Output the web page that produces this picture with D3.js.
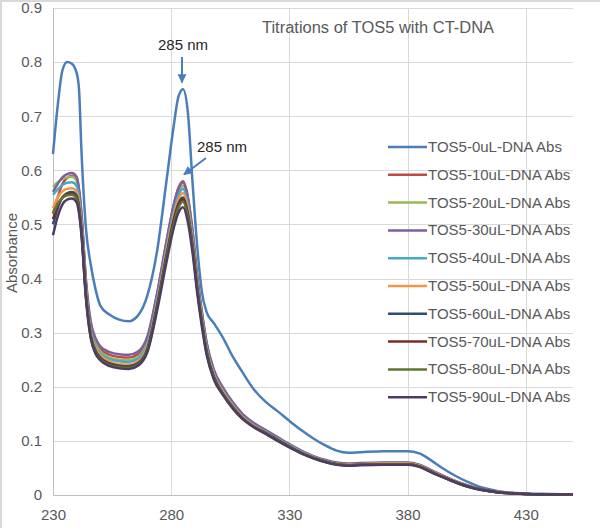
<!DOCTYPE html>
<html>
<head>
<meta charset="utf-8">
<script src="https://cdn.jsdelivr.net/npm/d3@7"></script>
<style>
  body { margin: 0; background: #fff; }
  text { font-family: "Liberation Sans", Arial, sans-serif; }
</style>
</head>
<body>
<div id="chart"></div>
<script>
// wavelengths (nm) shared by every spectrum
var wavelengths = [230, 232, 234, 236, 238, 240, 241, 242, 244, 246, 248, 250, 254, 258, 262, 266, 270, 274, 278, 281, 283, 285, 287, 289, 291, 293, 295, 298, 302, 306, 310, 315, 320, 325, 330, 335, 340, 345, 350, 355, 360, 370, 380, 385, 390, 395, 400, 405, 410, 415, 420, 430, 440, 450];

var seriesNames = ["TOS5-0uL-DNA Abs", "TOS5-10uL-DNA Abs", "TOS5-20uL-DNA Abs", "TOS5-30uL-DNA Abs", "TOS5-40uL-DNA Abs",
                   "TOS5-50uL-DNA Abs", "TOS5-60uL-DNA Abs", "TOS5-70uL-DNA Abs", "TOS5-80uL-DNA Abs", "TOS5-90uL-DNA Abs"];
var seriesColors = ["#4a7ebb", "#be4b48", "#98b954", "#7d5fa0", "#46aac5", "#f69544", "#2c4d75", "#772c2a", "#5f7530", "#4d3b62"];

var abs0 = [0.63, 0.72, 0.785, 0.80, 0.797, 0.78, 0.75, 0.64, 0.49, 0.425, 0.38, 0.35, 0.333, 0.324, 0.321, 0.332, 0.37, 0.45, 0.58, 0.68, 0.735, 0.75, 0.71, 0.58, 0.46, 0.375, 0.338, 0.318, 0.29, 0.256, 0.228, 0.195, 0.172, 0.155, 0.137, 0.12, 0.105, 0.092, 0.082, 0.078, 0.079, 0.081, 0.081, 0.077, 0.064, 0.049, 0.036, 0.025, 0.016, 0.01, 0.006, 0.003, 0.002, 0.001];
var abs10 = [0.52, 0.55, 0.575, 0.586, 0.59, 0.583, 0.562, 0.52, 0.39, 0.315, 0.285, 0.27, 0.259, 0.255, 0.254, 0.26, 0.29, 0.37, 0.468, 0.535, 0.567, 0.58, 0.552, 0.49, 0.405, 0.337, 0.28, 0.23, 0.196, 0.17, 0.149, 0.131, 0.119, 0.106, 0.093, 0.081, 0.072, 0.064, 0.059, 0.057, 0.058, 0.059, 0.059, 0.055, 0.045, 0.035, 0.026, 0.018, 0.011, 0.007, 0.005, 0.002, 0.001, 0.001];
var abs20 = [0.57, 0.578, 0.584, 0.587, 0.588, 0.58, 0.558, 0.515, 0.385, 0.31, 0.28, 0.265, 0.254, 0.25, 0.249, 0.255, 0.284, 0.364, 0.462, 0.528, 0.559, 0.572, 0.545, 0.483, 0.4, 0.333, 0.277, 0.227, 0.194, 0.168, 0.147, 0.13, 0.118, 0.105, 0.092, 0.08, 0.071, 0.064, 0.059, 0.057, 0.058, 0.059, 0.059, 0.055, 0.045, 0.035, 0.026, 0.018, 0.011, 0.007, 0.005, 0.002, 0.001, 0.001];
var abs30 = [0.56, 0.575, 0.587, 0.593, 0.595, 0.588, 0.566, 0.524, 0.395, 0.32, 0.29, 0.275, 0.264, 0.26, 0.259, 0.265, 0.294, 0.372, 0.468, 0.534, 0.565, 0.578, 0.55, 0.488, 0.405, 0.338, 0.282, 0.232, 0.198, 0.172, 0.151, 0.133, 0.12, 0.107, 0.094, 0.082, 0.072, 0.065, 0.06, 0.058, 0.059, 0.06, 0.06, 0.056, 0.046, 0.036, 0.026, 0.018, 0.012, 0.008, 0.005, 0.002, 0.001, 0.001];
var abs40 = [0.555, 0.565, 0.573, 0.577, 0.578, 0.571, 0.55, 0.508, 0.38, 0.305, 0.276, 0.262, 0.251, 0.247, 0.246, 0.252, 0.28, 0.36, 0.456, 0.522, 0.553, 0.566, 0.538, 0.477, 0.395, 0.33, 0.274, 0.225, 0.192, 0.167, 0.146, 0.129, 0.117, 0.104, 0.092, 0.08, 0.071, 0.063, 0.058, 0.056, 0.057, 0.058, 0.058, 0.054, 0.044, 0.034, 0.025, 0.017, 0.011, 0.007, 0.005, 0.002, 0.001, 0.001];
var abs50 = [0.53, 0.55, 0.561, 0.566, 0.567, 0.56, 0.54, 0.50, 0.375, 0.30, 0.272, 0.258, 0.247, 0.242, 0.241, 0.247, 0.275, 0.355, 0.45, 0.515, 0.545, 0.558, 0.53, 0.47, 0.39, 0.325, 0.27, 0.222, 0.19, 0.165, 0.145, 0.128, 0.116, 0.103, 0.091, 0.079, 0.07, 0.063, 0.058, 0.056, 0.057, 0.058, 0.058, 0.054, 0.044, 0.034, 0.025, 0.017, 0.011, 0.007, 0.005, 0.002, 0.001, 0.001];
var abs60 = [0.50, 0.53, 0.55, 0.558, 0.56, 0.553, 0.533, 0.493, 0.368, 0.295, 0.267, 0.254, 0.243, 0.239, 0.238, 0.244, 0.271, 0.35, 0.443, 0.508, 0.538, 0.55, 0.522, 0.463, 0.385, 0.32, 0.266, 0.219, 0.187, 0.163, 0.143, 0.126, 0.115, 0.102, 0.09, 0.078, 0.069, 0.062, 0.057, 0.055, 0.056, 0.057, 0.057, 0.053, 0.043, 0.033, 0.024, 0.017, 0.011, 0.007, 0.004, 0.002, 0.001, 0.001];
var abs70 = [0.51, 0.535, 0.55, 0.556, 0.557, 0.55, 0.53, 0.49, 0.366, 0.293, 0.265, 0.252, 0.241, 0.237, 0.236, 0.242, 0.269, 0.347, 0.44, 0.504, 0.534, 0.546, 0.518, 0.46, 0.382, 0.318, 0.264, 0.218, 0.186, 0.162, 0.142, 0.126, 0.114, 0.101, 0.089, 0.078, 0.069, 0.062, 0.057, 0.055, 0.056, 0.057, 0.057, 0.053, 0.043, 0.033, 0.024, 0.016, 0.011, 0.007, 0.004, 0.002, 0.001, 0.001];
var abs80 = [0.52, 0.538, 0.549, 0.554, 0.555, 0.548, 0.528, 0.488, 0.364, 0.292, 0.264, 0.251, 0.24, 0.236, 0.235, 0.241, 0.268, 0.345, 0.437, 0.5, 0.53, 0.542, 0.515, 0.457, 0.38, 0.316, 0.263, 0.217, 0.186, 0.162, 0.142, 0.126, 0.114, 0.101, 0.089, 0.078, 0.069, 0.062, 0.057, 0.055, 0.056, 0.057, 0.057, 0.053, 0.043, 0.033, 0.024, 0.016, 0.011, 0.007, 0.004, 0.002, 0.001, 0.001];
var abs90 = [0.48, 0.515, 0.537, 0.546, 0.548, 0.541, 0.521, 0.482, 0.36, 0.289, 0.261, 0.249, 0.238, 0.234, 0.233, 0.239, 0.265, 0.34, 0.43, 0.492, 0.521, 0.532, 0.506, 0.449, 0.374, 0.311, 0.259, 0.214, 0.184, 0.16, 0.141, 0.125, 0.113, 0.1, 0.088, 0.077, 0.068, 0.061, 0.056, 0.054, 0.055, 0.056, 0.056, 0.052, 0.042, 0.033, 0.024, 0.016, 0.01, 0.007, 0.004, 0.002, 0.001, 0.001];

var xTicks = [230, 280, 330, 380, 430];
var yTicks = [0, 0.1, 0.2, 0.3, 0.4, 0.5, 0.6, 0.7, 0.8, 0.9];
// arrow annotations: label, peak wavelength, absorbance at the arrow tip
var noteLabels = ["285 nm", "285 nm"];
var notePeaks = [285, 285];
var noteTips = [0.755, 0.585];

var allSeries = [abs0, abs10, abs20, abs30, abs40, abs50, abs60, abs70, abs80, abs90];

var W = 600, H = 528;
var plotL = 53, plotR = 573, plotT = 8, plotB = 495;
var textCol = "#595959";

var svg = d3.select("#chart").append("svg")
    .attr("width", W)
    .attr("height", H);

// chart area border (left + top visible in the picture)
svg.append("line").attr("x1", 1).attr("x2", 1).attr("y1", 0).attr("y2", H)
    .attr("stroke", "#d9d9d9").attr("stroke-width", 2);
svg.append("line").attr("x1", 0).attr("x2", W).attr("y1", 1).attr("y2", 1)
    .attr("stroke", "#d9d9d9").attr("stroke-width", 2);

var x = d3.scaleLinear().domain([230, 450]).range([plotL, plotR]);
var y = d3.scaleLinear().domain([0, 0.9]).range([plotB, plotT]);

//gridlines
svg.append("g")
    .selectAll("line")
    .data(yTicks)
    .enter().append("line")
    .attr("x1", plotL).attr("x2", plotR)
    .attr("y1", function(d) { return Math.round(y(d)) + 0.5; })
    .attr("y2", function(d) { return Math.round(y(d)) + 0.5; })
    .attr("stroke", function(d) { return d === 0 ? "#bfbfbf" : "#d9d9d9"; })
    .attr("stroke-width", 1);
svg.append("g")
    .selectAll("line")
    .data(xTicks)
    .enter().append("line")
    .attr("y1", plotT).attr("y2", plotB)
    .attr("x1", function(d) { return Math.round(x(d)) + 0.5; })
    .attr("x2", function(d) { return Math.round(x(d)) + 0.5; })
    .attr("stroke", function(d) { return d === 230 ? "#bfbfbf" : "#d9d9d9"; })
    .attr("stroke-width", 1);

// axes (labels only)
var xAxis = svg.append("g")
    .attr("transform", "translate(0," + plotB + ")")
    .call(d3.axisBottom(x).tickValues(xTicks).tickSize(0).tickPadding(14));
var yAxis = svg.append("g")
    .attr("transform", "translate(" + plotL + ",0)")
    .call(d3.axisLeft(y).tickValues(yTicks).tickSize(0).tickPadding(11)
        .tickFormat(function(d) { return d === 0 ? "0" : d3.format(".1f")(d); }));
[xAxis, yAxis].forEach(function(a) {
    a.select(".domain").remove();
    a.selectAll("text")
        .attr("fill", textCol)
        .style("font-size", "15px")
        .style("font-family", "'Liberation Sans', Arial, sans-serif");
});

svg.append("text")
    .attr("transform", "translate(17," + 253 + ") rotate(-90)")
    .attr("text-anchor", "middle")
    .attr("fill", textCol)
    .style("font-size", "15px")
    .text("Absorbance");

// spectra
var line = d3.line()
    .x(function(d) { return x(d[0]); })
    .y(function(d) { return y(d[1]); })
    .curve(d3.curveMonotoneX);

svg.append("g")
    .selectAll("path")
    .data(allSeries)
    .enter().append("path")
    .attr("d", function(vals) { return line(vals.map(function(v, i) { return [wavelengths[i], v]; })); })
    .attr("fill", "none")
    .attr("stroke", function(d, i) { return seriesColors[i]; })
    .attr("stroke-width", 2.5)
    .attr("stroke-linejoin", "round");

// title
svg.append("text")
    .attr("x", 262)
    .attr("y", 33)
    .attr("fill", textCol)
    .attr("textLength", 232)
    .attr("lengthAdjust", "spacingAndGlyphs")
    .style("font-size", "16px")
    .text("Titrations of TOS5 with CT-DNA");

// legend
var legend = svg.append("g");
var items = legend.selectAll("g")
    .data(seriesNames)
    .enter().append("g")
    .attr("transform", function(d, i) { return "translate(0," + (147 + i * 27.8) + ")"; });
items.append("line")
    .attr("x1", 388).attr("x2", 427)
    .attr("stroke", function(d, i) { return seriesColors[i]; })
    .attr("stroke-width", 2.5);
items.append("text")
    .attr("x", 428)
    .attr("y", 5)
    .attr("fill", textCol)
    .style("font-size", "15px")
    .text(function(d) { return d; });

// arrow annotations
svg.append("defs").append("marker")
    .attr("id", "head")
    .attr("viewBox", "0 0 10 10")
    .attr("refX", 9).attr("refY", 5)
    .attr("markerWidth", 4.5).attr("markerHeight", 4.5)
    .attr("markerUnits", "strokeWidth")
    .attr("orient", "auto")
    .append("path")
    .attr("d", "M0,0 L10,5 L0,10 Z")
    .attr("fill", "#4a7ebb");

var starts = [[x(notePeaks[0]) - 1, 57], [x(notePeaks[1]) + 23, 158]];
var labelPos = [[183, 50], [222, 152]];
noteLabels.forEach(function(lbl, i) {
    svg.append("line")
        .attr("x1", starts[i][0]).attr("y1", starts[i][1])
        .attr("x2", x(notePeaks[i]) + (i === 0 ? -1 : 1)).attr("y2", y(noteTips[i]) - 4)
        .attr("stroke", "#4a7ebb")
        .attr("stroke-width", 2)
        .attr("marker-end", "url(#head)");
    svg.append("text")
        .attr("x", labelPos[i][0])
        .attr("y", labelPos[i][1])
        .attr("text-anchor", "middle")
        .attr("fill", "#262626")
        .style("font-size", "15px")
        .text(lbl);
});
</script>
</body>
</html>
